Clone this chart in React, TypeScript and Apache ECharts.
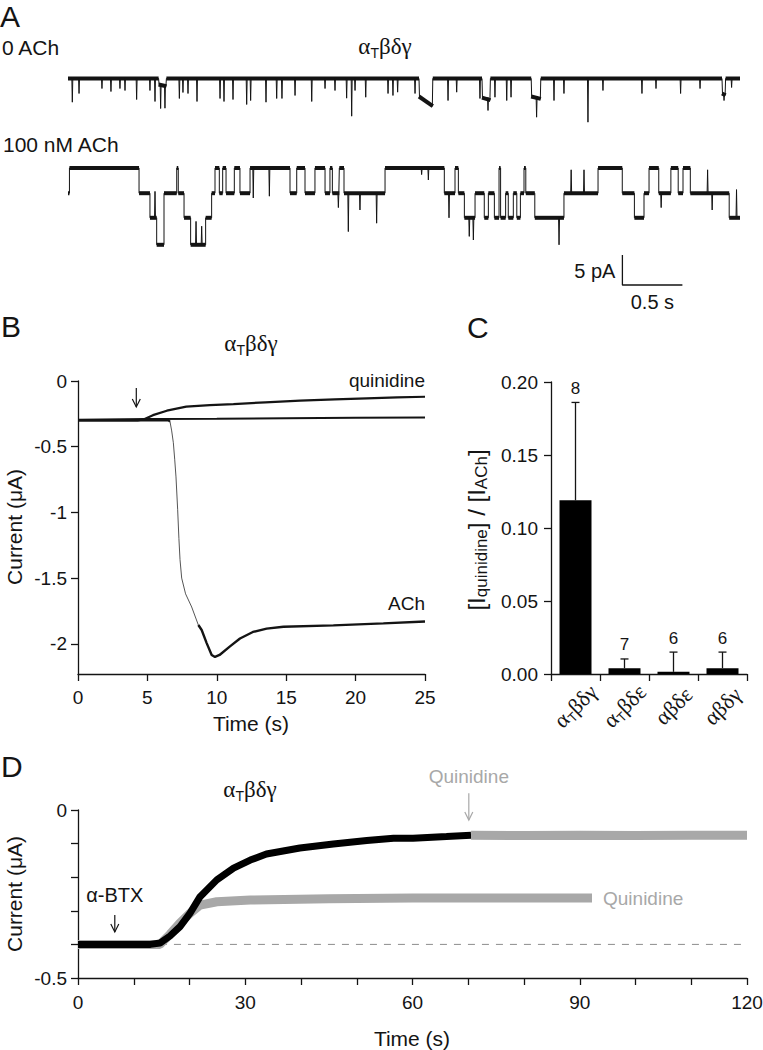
import React, { useEffect, useRef } from "react";
import * as echarts from "echarts";

const SANS = "'Liberation Sans', Arial, Helvetica, sans-serif";
const SERIF = "'Liberation Serif', 'Times New Roman', serif";
const INK = "#141414";
const GREY = "#a8a8a8";

// ---------------- Panel A: single-channel records ----------------
const aDuration = 5.6; // s
// 0 ACh: brief events [time (s), amplitude (pA)]
const a0Spikes: [number, number][] = [
  [0.036, -3.95], [0.092, -2.5], [0.283, -1.67], [0.358, -2.17], [0.433, -1.67], [0.475, -2.0],
  [0.572, -3.5], [0.683, -2.0], [0.725, -3.83], [0.772, -5.0], [0.808, -4.95], [0.928, -3.33],
  [0.958, -2.33], [1.0, -2.5], [1.075, -3.83], [1.267, -3.33], [1.3, -3.83], [1.375, -3.5],
  [1.489, -4.33], [1.522, -3.67], [1.65, -3.95], [1.739, -3.33], [1.783, -3.33], [1.892, -2.83],
  [2.031, -3.83], [2.142, -1.67], [2.225, -2.0], [2.322, -3.28], [2.364, -6.28], [2.392, -2.0],
  [2.481, -3.12], [2.667, -2.5], [2.708, -2.83], [2.747, -2.28], [2.892, -2.5], [3.167, -3.67],
  [3.239, -2.28], [3.433, -3.33], [3.5, -5.33], [3.558, -3.12], [3.656, -3.67], [3.692, -3.12],
  [3.905, -6.45], [4.05, -3.67], [4.133, -2.5], [4.333, -7.28], [4.458, -2.0], [4.783, -2.5],
  [4.9, -1.67], [5.105, -2.5], [5.267, -1.67], [5.467, -3.67], [5.53, -1.5],
];
// 0 ACh: longer dwells [start (s), end (s), level at start (pA), level at end (pA)]
const a0Dwells: [number, number, number, number][] = [
  [0.755, 0.82, -1.0, -1.3],
  [2.925, 3.04, -3.0, -4.6],
  [3.45, 3.52, -3.2, -3.6],
  [3.86, 3.94, -3.0, -3.4],
  [5.45, 5.48, -2.5, -2.8],
];
// 100 nM ACh: conductance levels (pA) and level changes [time (s), level index]
const a1LevelsPA = [0, -4.2, -8.3, -12.8];
const a1Steps: [number, number][] = [
  [0, 1], [0.012, 0], [0.592, 1], [0.683, 2], [0.739, 3], [0.8, 1], [0.906, 0], [0.919, 1],
  [0.967, 2], [1.022, 3], [1.147, 2], [1.197, 1], [1.225, 0], [1.261, 1], [1.289, 0], [1.317, 1],
  [1.386, 0], [1.433, 1], [1.517, 0], [1.85, 1], [1.906, 0], [1.975, 1], [2.058, 0], [2.142, 1],
  [2.183, 0], [2.203, 1], [2.261, 0], [2.3, 1], [2.642, 0], [3.136, 1], [3.225, 0], [3.253, 1],
  [3.303, 2], [3.392, 1], [3.469, 2], [3.503, 1], [3.553, 2], [3.592, 0], [3.605, 2], [3.647, 1],
  [3.669, 2], [3.711, 1], [3.74, 2], [3.77, 1], [3.8, 0], [3.815, 1], [3.89, 2], [4.133, 1],
  [4.417, 0], [4.619, 1], [4.72, 2], [4.8, 1], [4.842, 0], [4.923, 1], [5.024, 0], [5.085, 1],
  [5.125, 0], [5.186, 1], [5.51, 2],
];
const a1Spikes: [number, number][] = [
  [0.725, -3.9], [1.067, -8.9], [1.114, -9.7], [1.544, -5.0], [1.678, -4.7], [2.253, -6.6],
  [2.336, -10.6], [2.433, -7.0], [2.572, -9.2], [2.947, -1.1], [3.003, -2.0], [3.175, -8.3],
  [3.344, -11.4], [3.378, -12.0], [4.092, -12.8], [4.193, -0.3], [4.3, -0.3], [4.943, -6.6],
  [5.33, -0.3], [5.368, -7.0], [5.571, -3.6],
];
// scale bar: corner [time (s), current (pA)], lengths
const aScaleCorner: [number, number] = [4.62, -19.5];
const aScalePA = 5;
const aScaleS = 0.5;

// ---------------- Panel B: two-electrode currents ----------------
const bXTicks = [0, 5, 10, 15, 20, 25];
const bYTicks = [0, -0.5, -1, -1.5, -2];
const bQuinidine: [number, number][] = [
  [0, -0.3], [4.3, -0.3], [4.8, -0.29], [5.4, -0.26], [6.4, -0.226], [7.8, -0.195], [9.5, -0.183],
  [11.2, -0.176], [13.5, -0.162], [16, -0.15], [18.5, -0.14], [20.8, -0.132], [23, -0.125], [25, -0.12],
];
const bControl: [number, number][] = [
  [0, -0.295], [5, -0.29], [10, -0.287], [15, -0.283], [20, -0.28], [25, -0.277],
];
const bAchBaseline: [number, number][] = [[0, -0.3], [6.5, -0.298], [6.63, -0.31]];
const bAchRise: [number, number][] = [
  [6.63, -0.31], [6.75, -0.38], [6.87, -0.47], [6.97, -0.6], [7.06, -0.73], [7.18, -0.98],
  [7.27, -1.2], [7.35, -1.36], [7.47, -1.5], [7.75, -1.62], [8.19, -1.72], [8.67, -1.857],
];
const bAchPlateau: [number, number][] = [
  [8.67, -1.857], [8.91, -1.895], [9.27, -1.995], [9.63, -2.085], [9.87, -2.1], [10.2, -2.085],
  [10.95, -2.02], [11.67, -1.96], [12.6, -1.91], [13.59, -1.885], [14.8, -1.87], [18.4, -1.86],
  [22, -1.845], [25, -1.83],
];
const bArrowT = 4.2;

// ---------------- Panel C: relative quinidine current ----------------
const cCategories = ["αTβδγ", "αTβδε", "αβδε", "αβδγ"];
const cMeans = [0.119, 0.004, 0.0015, 0.004];
const cSem = [0.067, 0.0063, 0.0135, 0.011];
const cN = [8, 7, 6, 6];

// ---------------- Panel D: α-BTX time course ----------------
const dXLabels = [0, 30, 60, 90, 120];
const dYLabels = [0, -0.5];
const dBlack: [number, number][] = [
  [0, -0.4], [13, -0.4], [14.7, -0.396], [16.5, -0.375], [18.3, -0.347], [20.1, -0.307],
  [21.9, -0.258], [24.9, -0.208], [27.9, -0.173], [30.9, -0.149], [33.8, -0.131], [39.8, -0.113],
  [45.8, -0.101], [51.8, -0.091], [56.6, -0.084], [60.1, -0.084], [66.1, -0.079], [70.5, -0.075],
];
const dGreyAfter: [number, number][] = [
  [70.5, -0.075], [80, -0.076], [90, -0.075], [100, -0.076], [110, -0.075], [120, -0.075],
];
const dGreyLow: [number, number][] = [
  [0, -0.4], [13, -0.4], [14.7, -0.4], [16.5, -0.37], [18.3, -0.336], [20.1, -0.307],
  [21.9, -0.283], [24.9, -0.273], [30.9, -0.268], [45, -0.264], [60, -0.262], [75, -0.262], [92.2, -0.262],
];
const dBaseline: [number, number][] = [[14.7, -0.4], [120, -0.4]];
const dBtxT = 6.6;
const dQuinT = 70.1;

// ---------------- builders ----------------
function buildA0() {
  const d = 0.004;
  const pts: number[][] = [[0, 0]];
  const base = (t: number) => {
    for (const w of a0Dwells) if (t >= w[0] && t <= w[1]) return w[2];
    return 0;
  };
  const ev: [number, () => void][] = [];
  a0Spikes.forEach(([t, a]) =>
    ev.push([t, () => { const b = base(t); pts.push([t - d, b], [t, a], [t + d, b]); }])
  );
  a0Dwells.forEach((w) => {
    ev.push([w[0], () => { pts.push([w[0], 0], [w[0] + d, w[2]]); }]);
    ev.push([w[1], () => { pts.push([w[1] - d, w[3]], [w[1], 0]); }]);
  });
  ev.sort((p, q) => p[0] - q[0]).forEach((e) => e[1]());
  pts.push([aDuration, 0]);
  const thick: number[][] = [];
  let last = 0;
  a0Dwells.forEach((w) => {
    thick.push([last, 0, w[0], 0], [w[0], w[2], w[1], w[3]]);
    last = w[1];
  });
  thick.push([last, 0, aDuration, 0]);
  return { thin: pts, thick };
}

function buildA1() {
  const d = 0.004;
  const thin: number[][] = [];
  const thick: number[][] = [];
  a1Steps.forEach(([t0, li], i) => {
    const t1 = i + 1 < a1Steps.length ? a1Steps[i + 1][0] : aDuration;
    const lv = a1LevelsPA[li];
    thin.push([t0, lv]);
    a1Spikes
      .filter((s) => s[0] > t0 && s[0] < t1)
      .forEach(([ts, amp]) => thin.push([ts - d, lv], [ts, amp], [ts + d, lv]));
    thin.push([t1, lv]);
    thick.push([t0, lv, t1, lv]);
  });
  return { thin, thick };
}

const segmentSeries = (xi: number, data: number[][], width: number) => ({
  type: "custom",
  xAxisIndex: xi,
  yAxisIndex: xi,
  silent: true,
  data,
  renderItem: (_p: any, api: any) => {
    const p0 = api.coord([api.value(0), api.value(1)]);
    const p1 = api.coord([api.value(2), api.value(3)]);
    return {
      type: "line",
      shape: { x1: p0[0], y1: p0[1], x2: p1[0], y2: p1[1] },
      style: { stroke: INK, lineWidth: width, lineCap: "butt" },
    };
  },
});

const lineSeries = (gi: number, data: number[][], color: string, width: number, extra: any = {}) => ({
  type: "line",
  xAxisIndex: gi,
  yAxisIndex: gi,
  data,
  symbol: "none",
  showSymbol: false,
  silent: true,
  lineStyle: { color, width, ...extra },
});

const axisLine = { show: true, onZero: false, lineStyle: { color: INK, width: 1.3 } };
const axisTick = { show: true, length: 7, lineStyle: { color: INK, width: 1.3 } };
const labelBase = { color: INK, fontFamily: SANS, fontSize: 19 };

export default function App() {
  const ref = useRef<HTMLDivElement>(null);
  useEffect(() => {
    document.body.style.margin = "0";
    if (!ref.current) return;
    const chart = echarts.init(ref.current, undefined, { renderer: "svg" });
    const a0 = buildA0();
    const a1 = buildA1();
    const grids = [
      { left: 68, top: 60, width: 672, height: 70 },
      { left: 68, top: 160, width: 672, height: 130 },
      { left: 78, top: 381, width: 347, height: 293 },
      { left: 551, top: 382, width: 196, height: 292 },
      { left: 78, top: 810, width: 669, height: 168 },
    ].map((g) => ({ ...g, outerBoundsMode: "none" }));

    const option: any = {
      animation: false,
      backgroundColor: "#ffffff",
      grid: grids,
      xAxis: [
        { type: "value", gridIndex: 0, min: 0, max: aDuration, show: false },
        { type: "value", gridIndex: 1, min: 0, max: aDuration, show: false },
        {
          type: "value", gridIndex: 2, min: bXTicks[0], max: bXTicks[bXTicks.length - 1], interval: 5,
          axisLine, axisTick, splitLine: { show: false },
          axisLabel: { ...labelBase, margin: 14 },
        },
        {
          type: "category", gridIndex: 3, data: cCategories,
          axisLine, axisTick: { ...axisTick, alignWithLabel: false },
          axisLabel: {
            ...labelBase, rotate: 45, align: "center", verticalAlign: "middle", margin: 32, interval: 0,
            formatter: (v: string) => "{g|" + v.replace("T", "}{s|T}{g|") + "}",
            rich: {
              g: { fontFamily: SERIF, fontSize: 22, lineHeight: 25, color: INK },
              s: { fontFamily: SANS, fontSize: 13, lineHeight: 13, verticalAlign: "bottom", color: INK },
            },
          },
        },
        {
          type: "value", gridIndex: 4, min: 0, max: 120, interval: 10,
          axisLine, axisTick, splitLine: { show: false },
          axisLabel: {
            ...labelBase, margin: 15,
            formatter: (v: number) => (dXLabels.some((l) => Math.abs(l - v) < 1e-6) ? String(v) : ""),
          },
        },
      ],
      yAxis: [
        { type: "value", gridIndex: 0, min: -8.583, max: 3.083, show: false },
        { type: "value", gridIndex: 1, min: -20.333, max: 1.333, show: false },
        {
          type: "value", gridIndex: 2, min: -2.23, max: 0,
          axisLine, axisTick: { ...axisTick, customValues: bYTicks }, splitLine: { show: false },
          axisLabel: { ...labelBase, margin: 11, customValues: bYTicks },
        },
        {
          type: "value", gridIndex: 3, min: 0, max: 0.2, interval: 0.05,
          axisLine, axisTick, splitLine: { show: false },
          axisLabel: { ...labelBase, margin: 13, formatter: (v: number) => v.toFixed(2) },
        },
        {
          type: "value", gridIndex: 4, min: -0.5, max: 0, interval: 0.1,
          axisLine, axisTick, splitLine: { show: false },
          axisLabel: {
            ...labelBase, margin: 11,
            formatter: (v: number) => {
              const hit = dYLabels.find((l) => Math.abs(l - v) < 1e-6);
              return hit === undefined ? "" : String(hit);
            },
          },
        },
      ],
      series: [
        // Panel A
        lineSeries(0, a0.thin, INK, 1),
        segmentSeries(0, a0.thick, 4),
        lineSeries(1, a1.thin, INK, 1),
        segmentSeries(1, a1.thick, 4),
        lineSeries(1, [
          [aScaleCorner[0], aScaleCorner[1] + aScalePA],
          [aScaleCorner[0], aScaleCorner[1]],
          [aScaleCorner[0] + aScaleS, aScaleCorner[1]],
        ], INK, 1.3),
        // Panel B
        lineSeries(2, bControl, INK, 2),
        lineSeries(2, bQuinidine, INK, 2.2),
        lineSeries(2, bAchBaseline, INK, 2.2),
        lineSeries(2, bAchRise, "#555", 1),
        lineSeries(2, bAchPlateau, INK, 2.4),
        // Panel C
        {
          type: "bar", xAxisIndex: 3, yAxisIndex: 3, data: cMeans, barWidth: 32, silent: true,
          itemStyle: { color: "#000" },
        },
        {
          type: "custom", xAxisIndex: 3, yAxisIndex: 3, silent: true,
          data: cMeans.map((m, i) => [i, m, m + cSem[i], cN[i]]),
          renderItem: (_p: any, api: any) => {
            const base = api.coord([api.value(0), api.value(1)]);
            const top = api.coord([api.value(0), api.value(2)]);
            const x = base[0];
            return {
              type: "group",
              children: [
                { type: "line", shape: { x1: x, y1: base[1], x2: x, y2: top[1] }, style: { stroke: INK, lineWidth: 1.3 } },
                { type: "line", shape: { x1: x - 4, y1: top[1], x2: x + 4, y2: top[1] }, style: { stroke: INK, lineWidth: 1.3 } },
                {
                  type: "text", x, y: top[1] - 14,
                  style: { text: String(api.value(3)), fontFamily: SANS, fontSize: 17, fill: INK, align: "center", verticalAlign: "middle" },
                },
              ],
            };
          },
        },
        // Panel D
        lineSeries(4, dBaseline, "#8c8c8c", 1, { type: [7, 7] }),
        lineSeries(4, dGreyLow, GREY, 9),
        lineSeries(4, dBlack, "#000", 7),
        lineSeries(4, dGreyAfter, GREY, 9),
      ],
    };
    chart.setOption(option);

    const P = (g: number, x: number, y: number) => chart.convertToPixel({ gridIndex: g } as any, [x, y]) as number[];
    const txt = (text: string, x: number, y: number, style: any = {}, rotation = 0) => ({
      type: "text", x, y, rotation, silent: true,
      style: { text, fontFamily: SANS, fontSize: 21, fill: INK, align: "left", verticalAlign: "middle", ...style },
    });
    const arrow = (x: number, y1: number, y2: number, color: string) => [
      { type: "line", silent: true, shape: { x1: x, y1, x2: x, y2 }, style: { stroke: color, lineWidth: 1.2 } },
      {
        type: "polyline", silent: true,
        shape: { points: [[x - 4, y2 - 8], [x, y2], [x + 4, y2 - 8]] },
        style: { stroke: color, lineWidth: 1.2, fill: null },
      },
    ];
    const greekRich = (size: number) => ({
      g: { fontFamily: SERIF, fontSize: size, lineHeight: size + 4, fill: INK },
      s: { fontFamily: SANS, fontSize: Math.round(size * 0.6), lineHeight: Math.round(size * 0.6), verticalAlign: "bottom", fill: INK },
    });
    const title = (x: number, y: number) =>
      txt("{g|α}{s|T}{g|βδγ}", x, y, { align: "center", rich: greekRich(23) });

    const sb = P(1, aScaleCorner[0], aScaleCorner[1]);
    const sbTop = P(1, aScaleCorner[0], aScaleCorner[1] + aScalePA);
    const sbEnd = P(1, aScaleCorner[0] + aScaleS, aScaleCorner[1]);
    const qEnd = P(2, 25, bQuinidine[bQuinidine.length - 1][1]);
    const achEnd = P(2, 25, bAchPlateau[bAchPlateau.length - 1][1]);
    const bA1 = P(2, bArrowT, -0.053);
    const bA2 = P(2, bArrowT, -0.198);
    const dB1 = P(4, dBtxT, -0.3125);
    const dB2 = P(4, dBtxT, -0.363);
    const dQ1 = P(4, dQuinT, 0.05);
    const dQ2 = P(4, dQuinT, -0.03);
    const dLow = P(4, dGreyLow[dGreyLow.length - 1][0], dGreyLow[dGreyLow.length - 1][1]);

    const graphic: any[] = [
      // panel letters
      txt("A", 0, 16, { fontSize: 30 }),
      txt("B", 1, 326, { fontSize: 30 }),
      txt("C", 467, 327, { fontSize: 30 }),
      txt("D", 1, 766, { fontSize: 30 }),
      // panel A
      txt("0 ACh", 2, 47),
      title(385, 46),
      txt("100 nM ACh", 3, 144),
      txt("5 pA", sb[0] - 7, (sb[1] + sbTop[1]) / 2 + 1, { align: "right", fontSize: 20 }),
      txt("0.5 s", (sb[0] + sbEnd[0]) / 2, sb[1] + 17, { align: "center", fontSize: 20 }),
      // panel B
      title(251, 343),
      txt("quinidine", qEnd[0], qEnd[1] - 16, { align: "right", fontSize: 19 }),
      txt("ACh", achEnd[0], achEnd[1] - 18, { align: "right", fontSize: 19 }),
      ...arrow(bA1[0], bA1[1], bA2[1], INK),
      txt("Current (μA)", 14, 527, { align: "center" }, Math.PI / 2),
      txt("Time (s)", 251, 723, { align: "center" }),
      // panel C
      txt("{m|[I}{s|quinidine}{m|] / [I}{s|ACh}{m|]}", 476, 530, {
        align: "center",
        rich: {
          m: { fontFamily: SANS, fontSize: 24, lineHeight: 28, fill: INK },
          s: { fontFamily: SANS, fontSize: 17, lineHeight: 17, verticalAlign: "bottom", fill: INK },
        },
      }, Math.PI / 2),
      // panel D
      title(250, 789),
      txt("α-BTX", dB1[0], dB1[1] - 20, { align: "center", fontSize: 20 }),
      ...arrow(dB1[0], dB1[1], dB2[1], INK),
      txt("Quinidine", dQ1[0], dQ1[1] - 17, { align: "center", fontSize: 19, fill: GREY }),
      ...arrow(dQ1[0], dQ1[1], dQ2[1], GREY),
      txt("Quinidine", dLow[0] + 11, dLow[1], { align: "left", fontSize: 19, fill: GREY }),
      txt("Current (μA)", 14, 894, { align: "center" }, Math.PI / 2),
      txt("Time (s)", 412, 1038, { align: "center" }),
    ];
    chart.setOption({ graphic });
    return () => chart.dispose();
  }, []);
  return <div ref={ref} style={{ width: 763, height: 1050 }} />;
}
